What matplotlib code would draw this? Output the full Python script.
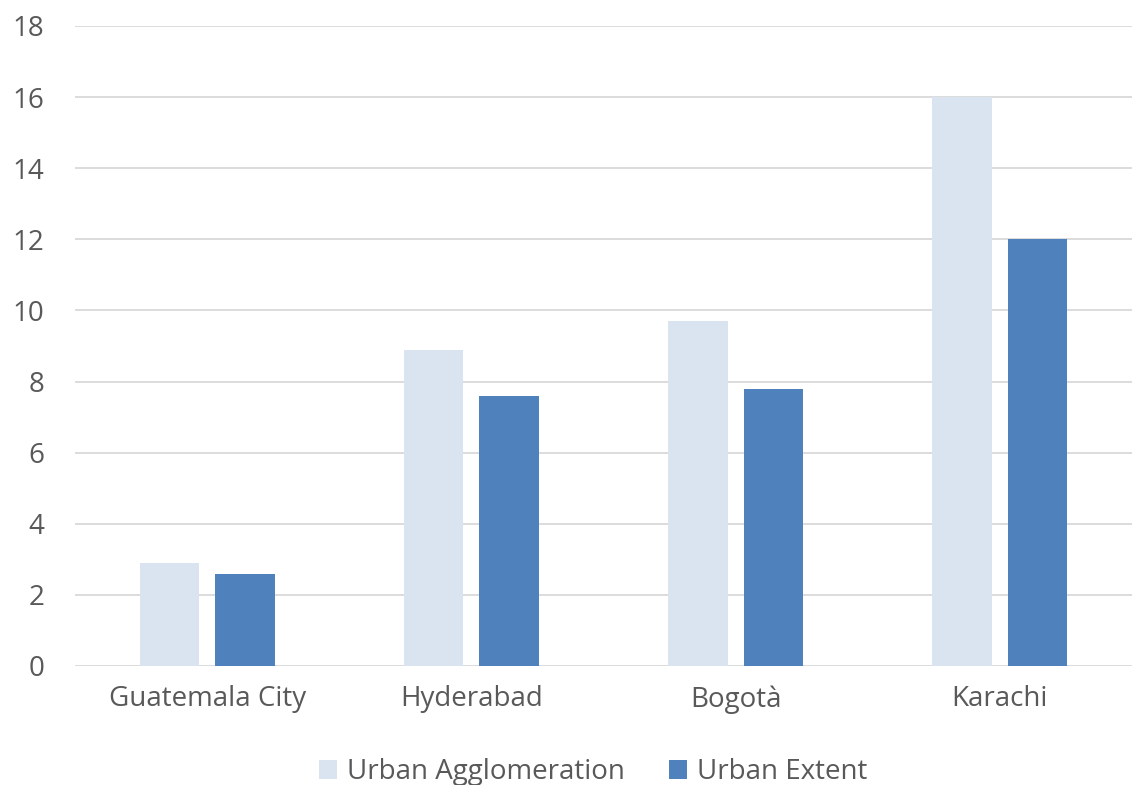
import numpy as np
import matplotlib.pyplot as plt

plt.rcParams['font.family'] = ['Open Sans', 'DejaVu Sans']

cities = ['Guatemala City', 'Hyderabad', 'Bogotà', 'Karachi']
agglomeration = [2.9, 8.9, 9.7, 16.0]
extent = [2.6, 7.6, 7.8, 12.0]

fig = plt.figure(figsize=(11.32, 7.85), dpi=100)
ax = fig.add_axes([75 / 1132, 1 - 666 / 785, 1 - 75 / 1132, (666 - 26) / 785])

x = np.arange(len(cities))
w = 0.225
gap = 0.06
ax.bar(x - (w + gap) / 2, agglomeration, width=w, color='#dae3f0', label='Urban Agglomeration', zorder=2)
ax.bar(x + (w + gap) / 2, extent, width=w, color='#4f81bd', label='Urban Extent', zorder=2)

ax.set_xlim(-0.5, len(cities) - 0.5)
ax.set_ylim(0, 18)
ax.set_yticks(range(0, 19, 2))
ax.set_xticks(x)
ax.set_xticklabels(cities)
ax.grid(axis='y', color='#d9d9d9', linewidth=1.3, zorder=0)
for s in ax.spines.values():
    s.set_visible(False)
ax.tick_params(length=0, labelsize=20, colors='#595959')
ax.tick_params(axis='x', pad=14)
ax.tick_params(axis='y', pad=22)

ax.legend(loc='upper center', bbox_to_anchor=(0.49, -0.105), ncol=2, frameon=False,
          fontsize=20, labelcolor='#595959', handlelength=0.65, handleheight=0.65,
          handletextpad=0.35, columnspacing=1.6)

fig.savefig('out.png', dpi=100)
